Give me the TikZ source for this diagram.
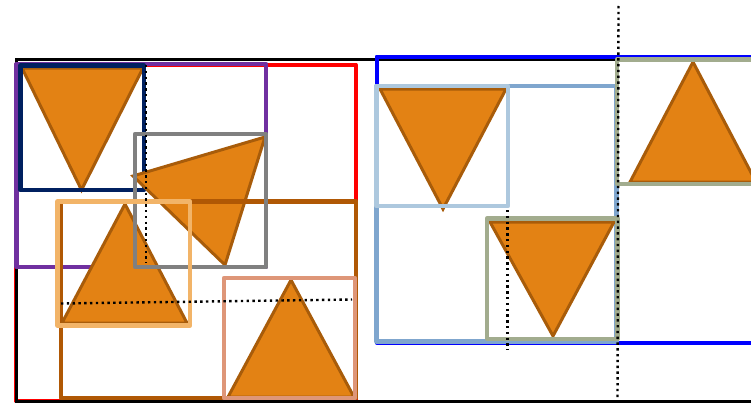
\documentclass[tikz,border=0pt]{standalone}
\definecolor{trifill}{RGB}{227,130,20}
\definecolor{triedge}{RGB}{168,92,10}
\definecolor{navyc}{RGB}{0,32,96}
\definecolor{purplec}{RGB}{112,48,160}
\definecolor{brownc}{RGB}{176,88,4}
\definecolor{sandyc}{RGB}{242,180,104}
\definecolor{salmonc}{RGB}{222,150,120}
\definecolor{steelc}{RGB}{127,166,206}
\definecolor{lightbluec}{RGB}{173,200,222}
\definecolor{greenc}{RGB}{162,172,142}
\definecolor{grayc}{RGB}{128,128,128}
\begin{document}
\begin{tikzpicture}[x=1pt,y=-1pt,
  box/.style={line width=4.5pt,line join=round},
  tri/.style={fill=trifill,draw=triedge,line width=3pt},
  dotl/.style={black,line width=2.4pt,dash pattern=on 2.4pt off 3.4pt}]
\useasboundingbox (0,0) rectangle (751,404);
\clip (0,0) rectangle (751,404);
% left group
\draw[red,line width=4pt,line join=round] (15.5,64.5) rectangle (355.5,400.5);
\draw[black,line width=3pt] (16.5,59) rectangle (800,401.5);
\draw[box,purplec] (16.5,64) rectangle (266,267);
\draw[tri] (22,68) -- (143,68) -- (81.5,190) -- cycle;
\draw[box,navyc] (20.5,65.5) rectangle (144,190);
\draw[tri] (265,137) -- (133,176) -- (225,265) -- cycle;
\draw[box,brownc] (61,201.5) rectangle (356,398);
\draw[tri] (125,204) -- (187,323) -- (62,323) -- cycle;
\draw[box,grayc] (135,134) rectangle (266,267);
\draw[box,sandyc] (57.5,201.5) rectangle (190,325.5);
\draw[tri] (291,280) -- (354,397) -- (228,397) -- cycle;
\draw[box,salmonc] (224,278) rectangle (355,398);
\draw[dotl] (61,303.5) -- (352,299.5);
\draw[dotl] (146,65) -- (146,263);
% right group
\draw[blue,line width=4pt,line join=round] (376.5,56.5) rectangle (800,342.5);
\draw[box,steelc] (376.5,86) rectangle (616.5,341.5);
\draw[tri] (380,89) -- (506,89) -- (443,209) -- cycle;
\draw[box,lightbluec] (376.5,86) rectangle (508,206);
\draw[tri] (490,222) -- (614,222) -- (553,336) -- cycle;
\draw[box,greenc] (487,218.5) rectangle (617.5,339);
\draw[tri] (693,62) -- (756,182) -- (630,182) -- cycle;
\draw[box,greenc] (617,59.5) rectangle (800,184);
\draw[dotl] (618.5,6) -- (617.5,404);
\draw[dotl] (507.5,210) -- (507.5,350);
\end{tikzpicture}
\end{document}
